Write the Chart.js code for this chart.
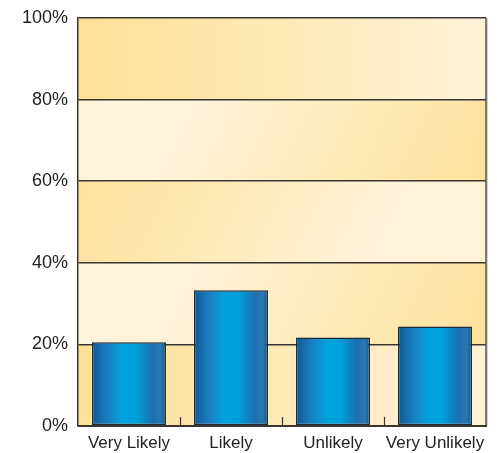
<!DOCTYPE html>
<html>
<head>
<meta charset="utf-8">
<script src="https://cdn.jsdelivr.net/npm/chart.js@4/dist/chart.umd.min.js"></script>
<style>
html,body{margin:0;padding:0;background:#fff;}
#wrap{width:497px;height:453px;position:relative;}
</style>
</head>
<body>
<div id="wrap"><canvas id="c" width="497" height="453"></canvas></div>
<script>
const categories = ["Very Likely", "Likely", "Unlikely", "Very Unlikely"];
const values = [20.5, 33.3, 21.7, 24.4];
const yTickValues = [0, 20, 40, 60, 80, 100];

const DARK = "#fee096";
const LIGHT = "#fef2d8";
const LINE = "#3a3530";

const bandPlugin = {
  id: "bands",
  beforeDraw(chart) {
    const {ctx, chartArea: a, scales: {y}} = chart;
    ctx.save();
    for (let i = 0; i < yTickValues.length - 1; i++) {
      const lo = yTickValues[i], hi = yTickValues[i + 1];
      const yTop = y.getPixelForValue(hi), yBot = y.getPixelForValue(lo);
      const idx = i;
      let g;
      if (idx === 0 || idx === 4) {
        g = ctx.createLinearGradient(a.left, 0, a.right, 0);
        g.addColorStop(0, DARK); g.addColorStop(1, LIGHT);
      } else if (idx === 1 || idx === 3) {
        g = ctx.createLinearGradient(a.left, yTop - 60, a.right, yBot + 60);
        g.addColorStop(0, LIGHT); g.addColorStop(0.3, LIGHT); g.addColorStop(1, DARK);
      } else {
        g = ctx.createLinearGradient(a.left, yTop - 60, a.right, yBot + 60);
        g.addColorStop(0, DARK); g.addColorStop(0.7, LIGHT); g.addColorStop(1, LIGHT);
      }
      ctx.fillStyle = g;
      ctx.fillRect(a.left, yTop, a.right - a.left, yBot - yTop);
    }
    ctx.restore();
  },
  afterDatasetsDraw(chart) {
    const {ctx, chartArea: a, scales: {x}} = chart;
    ctx.save();
    ctx.strokeStyle = LINE;
    ctx.lineWidth = 1.2;
    for (let i = 1; i < categories.length; i++) {
      const px = Math.round((x.getPixelForValue(i - 1) + x.getPixelForValue(i)) / 2) + 0.5;
      ctx.beginPath();
      ctx.moveTo(px, a.bottom);
      ctx.lineTo(px, a.bottom - 9);
      ctx.stroke();
    }
    ctx.strokeStyle = "#55504a";
    ctx.lineWidth = 1.5;
    ctx.beginPath();
    ctx.moveTo(a.right, a.top);
    ctx.lineTo(a.right, a.bottom);
    ctx.stroke();
    ctx.strokeStyle = "rgba(0,0,0,0.18)";
    ctx.lineWidth = 1;
    ctx.beginPath();
    ctx.moveTo(a.right + 1.5, a.top);
    ctx.lineTo(a.right + 1.5, a.bottom);
    ctx.stroke();
    ctx.strokeStyle = LINE;
    ctx.lineWidth = 2;
    ctx.beginPath();
    ctx.moveTo(a.left, a.bottom);
    ctx.lineTo(a.right + 1, a.bottom);
    ctx.stroke();
    ctx.restore();
  }
};

function barGradient(context) {
  const chart = context.chart;
  const x = chart.scales.x;
  if (!chart.chartArea || !x) return "#0a8fd0";
  const cx = x.getPixelForValue(context.dataIndex);
  const w = (chart.chartArea.right - chart.chartArea.left) / categories.length * 0.725;
  const g = chart.ctx.createLinearGradient(cx - w / 2, 0, cx + w / 2, 0);
  g.addColorStop(0, "#0c5896");
  g.addColorStop(0.2, "#1a7fbf");
  g.addColorStop(0.42, "#00a2de");
  g.addColorStop(0.6, "#009fdc");
  g.addColorStop(0.82, "#1d6fae");
  g.addColorStop(0.93, "#2a78b2");
  g.addColorStop(1, "#0d5592");
  return g;
}

new Chart(document.getElementById("c"), {
  type: "bar",
  data: {
    labels: categories,
    datasets: [{
      data: values,
      backgroundColor: barGradient,
      borderColor: "#1c2a38",
      borderWidth: 1.5,
      borderSkipped: false,
      barPercentage: 0.725,
      categoryPercentage: 1.0
    }]
  },
  plugins: [bandPlugin],
  options: {
    responsive: false,
    animation: false,
    devicePixelRatio: 1,
    layout: {padding: {left: 0, top: 18, right: 11, bottom: 0}},
    plugins: {legend: {display: false}, tooltip: {enabled: false}},
    scales: {
      x: {
        grid: {display: false, drawTicks: false},
        border: {display: false},
        ticks: {
          color: "#222",
          font: {family: "Liberation Sans, Arial, sans-serif", size: 17},
          padding: 7,
          maxRotation: 0
        },
        afterFit(s) { s.height = 27; s.paddingLeft = 0; s.paddingRight = 0; }
      },
      y: {
        min: 0, max: 100,
        afterBuildTicks(s) { s.ticks = yTickValues.map(v => ({value: v})); },
        grid: {color: LINE, lineWidth: 1.5, drawTicks: false},
        border: {display: true, color: LINE, width: 1.5},
        ticks: {
          color: "#222",
          font: {family: "Liberation Sans, Arial, sans-serif", size: 18},
          padding: 10,
          callback: v => v + "%"
        },
        afterFit(s) { s.width = 78; s.paddingTop = 0; s.paddingBottom = 0; }
      }
    }
  }
});
</script>
</body>
</html>
